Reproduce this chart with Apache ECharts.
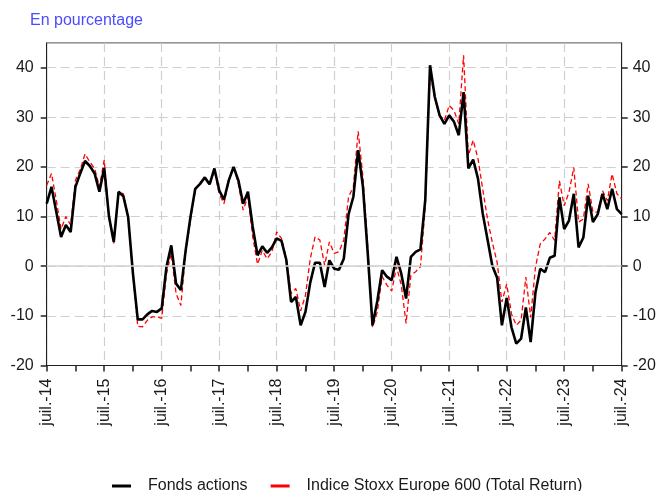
<!DOCTYPE html>
<html><head><meta charset="utf-8">
<script src="https://cdn.jsdelivr.net/npm/echarts@6/dist/echarts.min.js"></script>
<style>html,body{margin:0;padding:0;background:#fff}#c{width:659px;height:491px}</style>
</head><body><div id="c"></div>
<script>
// Month labels from juil.-14 to juil.-24
const monthNames = ['janv.','févr.','mars','avr.','mai','juin','juil.','août','sept.','oct.','nov.','déc.'];
const categories = [];
for (let y = 2014, m = 6; y < 2024 || (y === 2024 && m <= 6); ) {
  categories.push(monthNames[m] + '-' + String(y).slice(2));
  m++; if (m === 12) { m = 0; y++; }
}
const yTicks = [-20, -10, 0, 10, 20, 30, 40];

const fondsActions = [
12.6,16,11,5.9,8.3,6.9,16,18.7,21.2,20.2,18.7,15,
19.8,10,4.9,15,14.1,9.9,-1.5,-10.7,-10.7,-9.7,-9,-9.2,
-8.5,-0.1,4.2,-3.5,-4.8,3.2,9.9,15.6,16.6,17.9,16.5,19.7,
15.3,13.4,17.3,20,17.3,12.6,15,7.9,2.2,4,2.7,3.8,
5.6,5.1,1.3,-7.2,-6.2,-11.9,-9.2,-3.3,0.7,0.7,-4.2,1.2,
-0.5,-0.7,1.5,10.5,14,23.4,16,2.6,-11.9,-7,-0.8,-2.1,
-2.8,1.9,-1.5,-6.5,1.9,2.9,3.4,13.3,40.5,34.1,30.4,28.7,
30.4,29.1,26.4,35.1,19.7,21.5,17.7,10.6,5.4,0.1,-2.3,-11.9,
-6.4,-12.3,-15.6,-14.6,-8.3,-15.3,-5.3,-0.5,-1.2,1.7,2.1,13.9,
7.5,9.2,14.6,3.8,5.8,14.2,8.9,10.5,14.6,11.5,15.6,11.5,
10.5];

const stoxx600 = [
16.3,18.7,13.3,7.5,10,8.3,17.3,19.5,22.6,21,19.7,16,
21.4,9.9,4.6,15,14.6,9.9,-1.8,-12.1,-12.2,-10.9,-10.2,-10.2,
-10.5,-1.5,2.6,-5.5,-7.9,2.6,9.3,15.3,16.8,17.6,16.3,19.3,
14.6,12.6,17.3,20.1,16.6,11.3,14,5.9,0.4,3.2,1.5,2.9,
6.9,5.6,1.5,-5.5,-4.5,-9,-5.9,1.5,5.9,5.3,0.2,4.9,
2.6,2.9,5.3,14,16,27.2,18,3.9,-12.3,-9.2,-2.1,-3.8,
-5,-0.1,-3.8,-11.5,-1.8,-1.1,-0.1,11.9,39.1,33.8,30.4,29.4,
32.4,31.4,28.7,42.5,22.3,25.4,21.7,15.5,9.5,4.8,0.8,-7.2,
-3.6,-9.6,-11.9,-10.9,-2.2,-10.3,-0.2,4.5,5.5,6.8,5.2,17.2,
12.2,14.9,19.9,8.9,9.5,16.6,10.9,10.9,15.2,13.2,18.6,14.6,
13.6];

const FONT = "'Liberation Sans', Arial, sans-serif";
const chart = echarts.init(document.getElementById('c'), null, {renderer: 'canvas'});
const yAxisBase = {
  type: 'value', min: -20, max: 45,
  axisLine: {show: true, lineStyle: {color: '#222', width: 1}},
  axisTick: {show: true, length: 6, customValues: yTicks, lineStyle: {color: '#222', width: 1.5}},
  axisLabel: {customValues: yTicks, fontSize: 16, color: '#1a1a1a', fontFamily: FONT},
};
chart.setOption({
  animation: false,
  backgroundColor: '#fff',
  title: {text: 'En pourcentage', left: 25, top: 8,
    textStyle: {color: '#4b4bff', fontSize: 16, fontWeight: 'normal', fontFamily: FONT}},
  grid: {left: 46.7, right: 37.3, top: 42.9, bottom: 125.5, show: true,
    borderColor: '#555', borderWidth: 1, backgroundColor: 'transparent'},
  legend: {
    left: 107, top: 473, itemWidth: 19, itemHeight: 3, itemGap: 23,
    textStyle: {fontSize: 16, color: '#1a1a1a', fontFamily: FONT, padding: [0, 0, 0, 12]},
    data: [
      {name: 'Fonds actions', icon: 'rect', itemStyle: {color: '#000'}},
      {name: 'Indice Stoxx Europe 600 (Total Return)', icon: 'rect', itemStyle: {color: '#ff0000'}}
    ]
  },
  xAxis: {
    type: 'category', data: categories, boundaryGap: false,
    axisLine: {show: true, onZero: false, lineStyle: {color: '#222', width: 1}},
    axisTick: {show: true, interval: 5, length: 6, lineStyle: {color: '#222', width: 1.5}},
    axisLabel: {interval: 11, rotate: 90, margin: 13, fontSize: 16, color: '#1a1a1a', fontFamily: FONT},
    splitLine: {show: true, interval: 11, lineStyle: {color: '#cfcfcf', type: [9, 5], width: 1.2}}
  },
  yAxis: [
    Object.assign({}, yAxisBase, {position: 'left',
      axisLabel: Object.assign({}, yAxisBase.axisLabel, {margin: 13}),
      splitLine: {show: true, lineStyle: {color: '#cfcfcf', type: [9, 5], width: 1.2}}}),
    Object.assign({}, yAxisBase, {position: 'right',
      axisLabel: Object.assign({}, yAxisBase.axisLabel, {margin: 11}),
      splitLine: {show: false}})
  ],
  series: [
    {name: 'zero', type: 'line', data: [], z: 1, silent: true,
      markLine: {silent: true, symbol: 'none', label: {show: false},
        lineStyle: {color: '#d0d0d0', type: 'solid', width: 1.5},
        data: [{yAxis: 0}]}},
    {name: 'Indice Stoxx Europe 600 (Total Return)', type: 'line', data: stoxx600, z: 3,
      symbol: 'none', lineStyle: {color: '#ff0000', width: 1.3, type: [5, 3]}, itemStyle: {color: '#ff0000'}},
    {name: 'Fonds actions', type: 'line', data: fondsActions, z: 4,
      symbol: 'none', lineStyle: {color: '#000', width: 2.6}, itemStyle: {color: '#000'}}
  ]
});
</script></body></html>
